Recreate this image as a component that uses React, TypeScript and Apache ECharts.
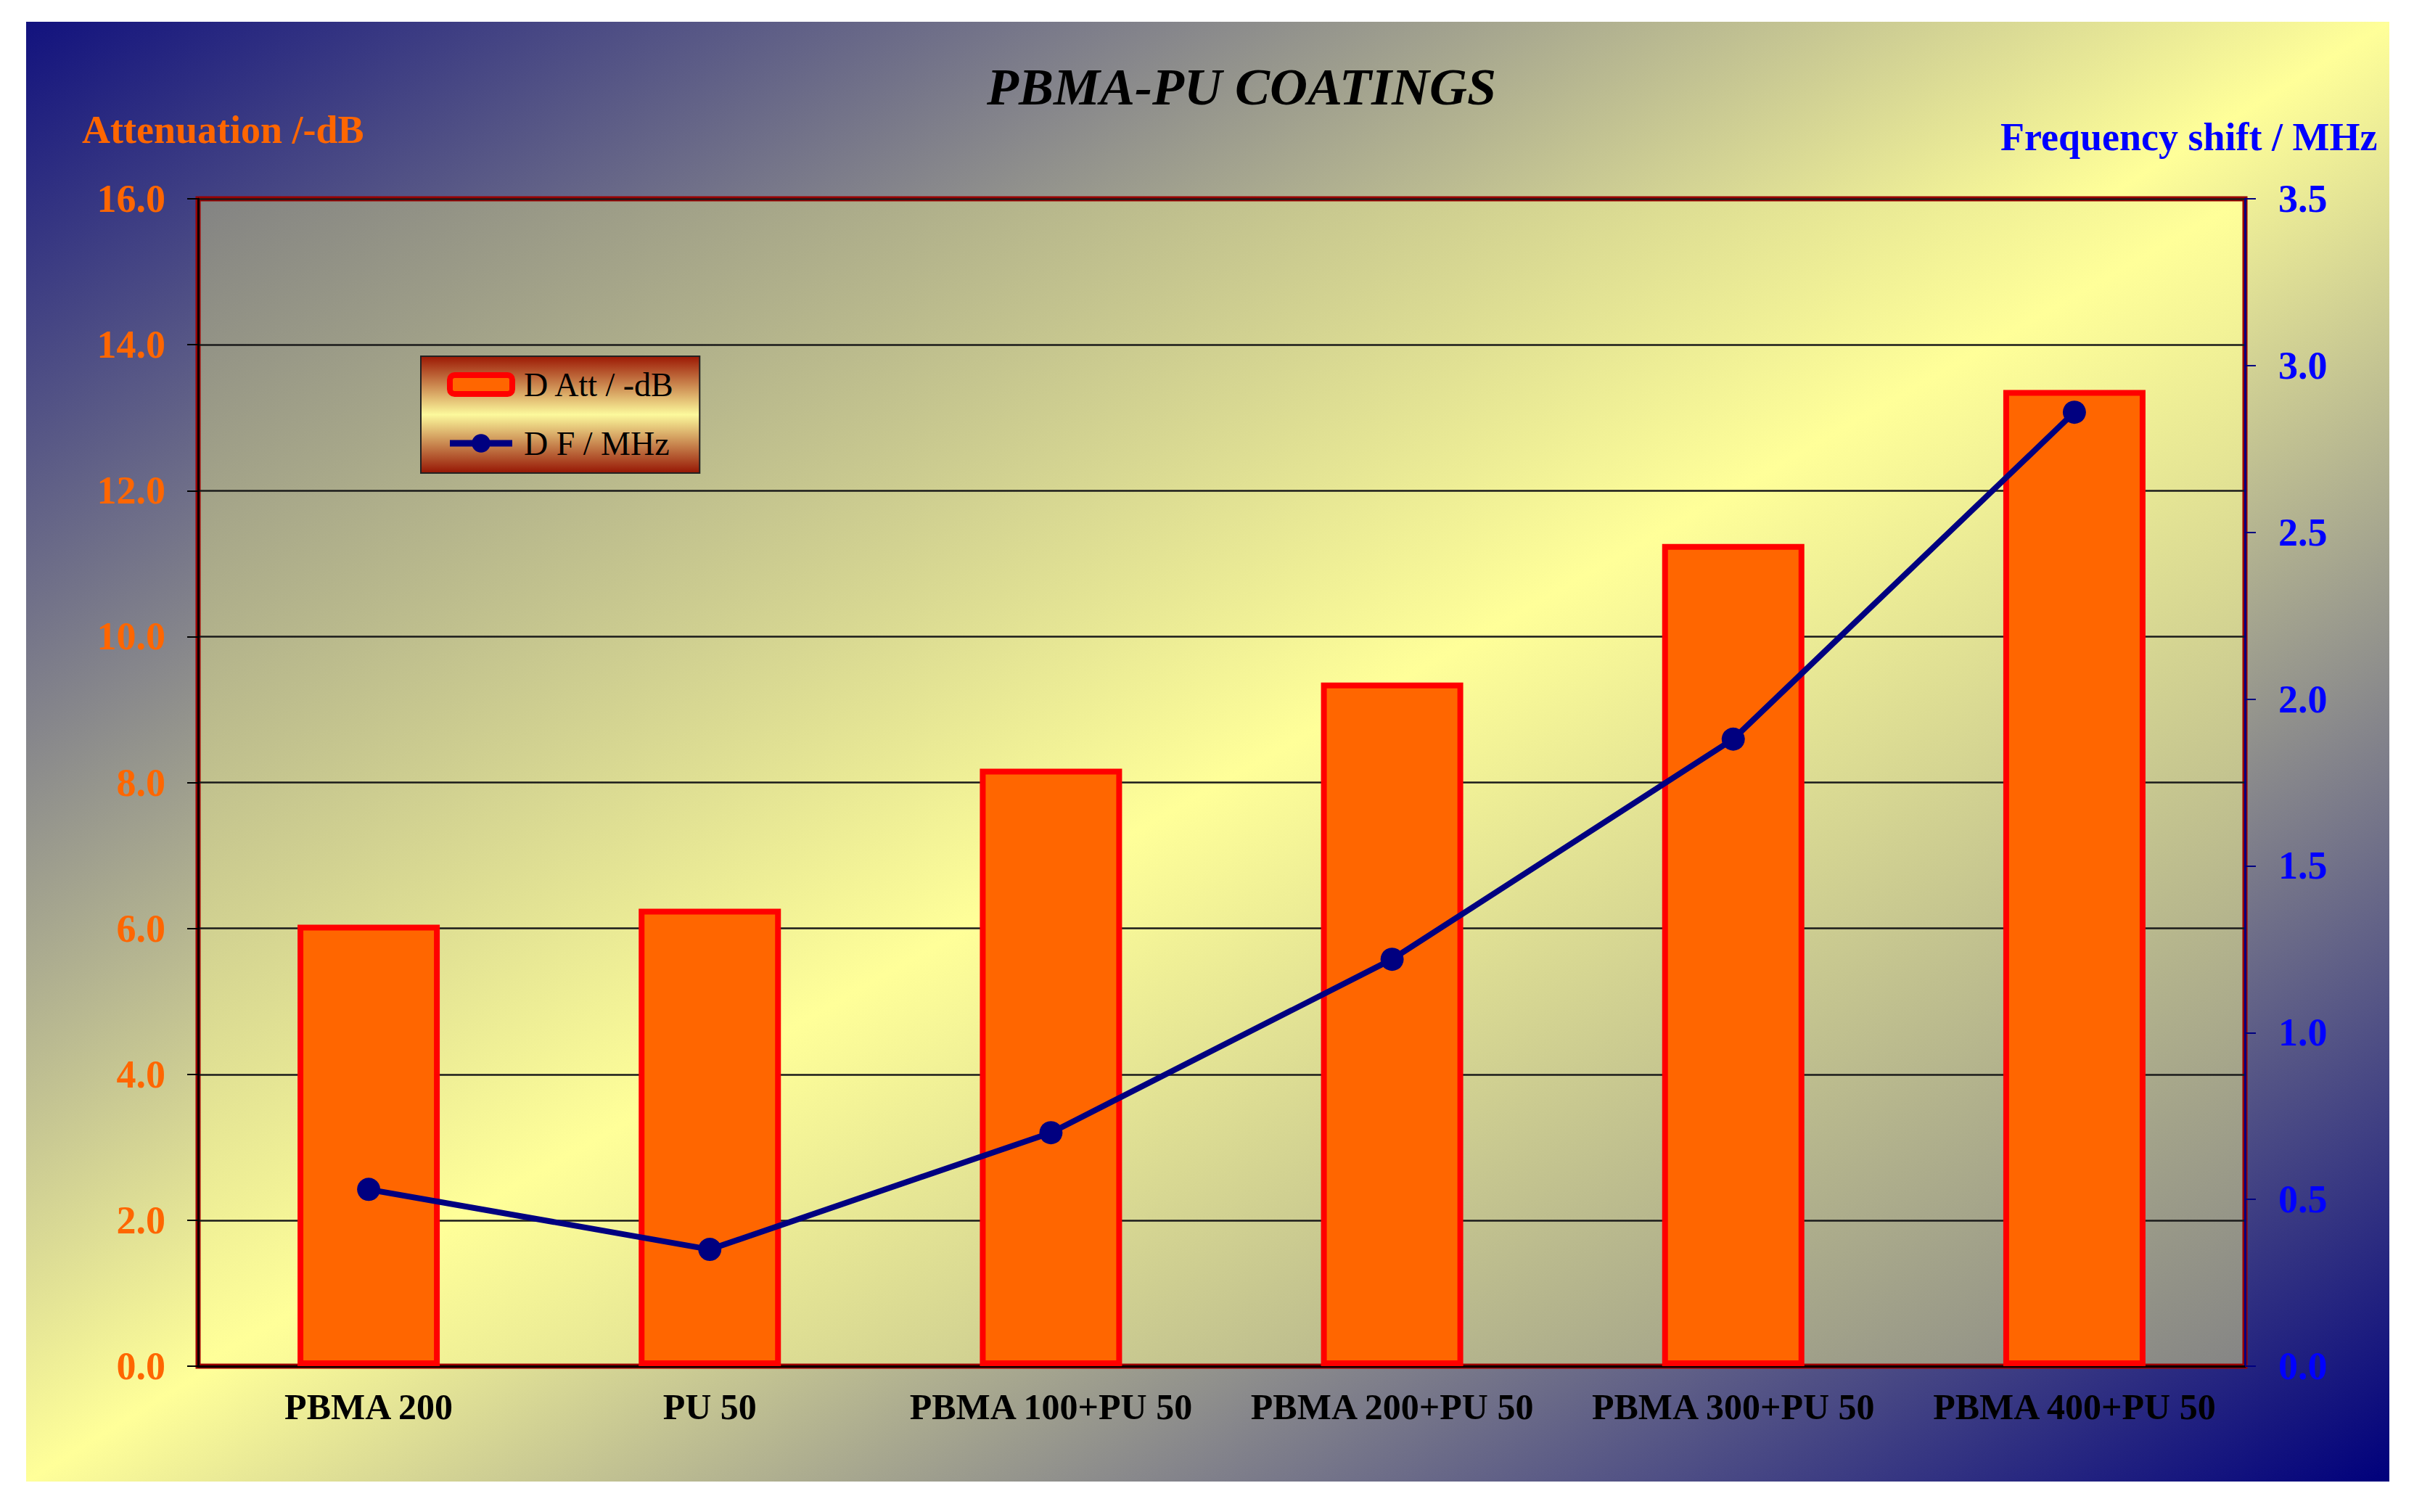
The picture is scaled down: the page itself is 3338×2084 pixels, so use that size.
import { useEffect, useRef } from 'react';
import * as echarts from 'echarts';

const categories = [
  'PBMA 200',
  'PU 50',
  'PBMA 100+PU 50',
  'PBMA 200+PU 50',
  'PBMA 300+PU 50',
  'PBMA 400+PU 50',
];
// D Att / -dB, left axis
const attenuation = [6.05, 6.27, 8.19, 9.37, 11.27, 13.38];
// D F / MHz, right axis
const freqShift = [0.53, 0.35, 0.7, 1.22, 1.88, 2.86];

const attMax = 16;
const attStep = 2;
const freqMax = 3.5;
const freqStep = 0.5;

const SERIF = "'Times New Roman', 'Liberation Serif', serif";
const ORANGE = '#ff6600';
const BLUE = '#0000ff';
const NAVY = '#000080';

// legend icon for the line series: thick line with a dot in the middle
const LINE_ICON = 'path://M0 9h94v10H0z M61 14a14 14 0 1 1-28 0a14 14 0 1 1 28 0z';

function App() {
  const chartRef = useRef<HTMLDivElement>(null);

  useEffect(() => {
    if (!chartRef.current) return;
    const chart = echarts.init(chartRef.current, null, { renderer: 'svg' });

    const outerBg = new echarts.graphic.LinearGradient(0, 0, 1, 1, [
      { offset: 0, color: '#12127e' },
      { offset: 0.5, color: '#ffff99' },
      { offset: 1, color: '#00007c' },
    ]);
    const plotBg = new echarts.graphic.LinearGradient(0, 0, 1, 1, [
      { offset: 0, color: '#838383' },
      { offset: 0.5, color: '#ffff99' },
      { offset: 1, color: '#858585' },
    ]);
    const legendBg = new echarts.graphic.LinearGradient(0, 0, 0, 1, [
      { offset: 0, color: '#9c1804' },
      { offset: 0.5, color: '#fcf99c' },
      { offset: 1, color: '#961604' },
    ]);

    const option: any = {
      animation: false,
      backgroundColor: '#ffffff',
      title: {
        text: 'PBMA-PU COATINGS',
        left: 1711,
        top: 84,
        textAlign: 'center',
        padding: 0,
        textStyle: {
          fontFamily: SERIF,
          fontSize: 72,
          fontWeight: 'bold',
          fontStyle: 'italic',
          color: '#000000',
        },
      },
      graphic: [
        {
          type: 'rect',
          z: -10,
          silent: true,
          shape: { x: 36, y: 30, width: 3257, height: 2012 },
          style: { fill: outerBg },
        },
        {
          type: 'text',
          x: 113,
          y: 152,
          z: 10,
          style: {
            text: 'Attenuation /-dB',
            font: `bold 54px ${SERIF}`,
            fill: ORANGE,
          },
        },
        {
          type: 'text',
          x: 2757,
          y: 162,
          z: 10,
          style: {
            text: 'Frequency shift / MHz',
            font: `bold 54px ${SERIF}`,
            fill: BLUE,
          },
        },
      ],
      legend: {
        orient: 'vertical',
        left: 580,
        top: 491,
        padding: [16, 34, 18, 36],
        itemWidth: 86,
        itemHeight: 26,
        itemGap: 35,
        backgroundColor: legendBg,
        borderColor: '#222222',
        borderWidth: 2,
        textStyle: {
          fontFamily: SERIF,
          fontSize: 46,
          lineHeight: 45,
          color: '#000000',
          padding: [0, 0, 0, 11],
        },
        data: [
          {
            name: 'D Att / -dB',
            itemStyle: { color: ORANGE, borderColor: '#ff0000', borderWidth: 8 },
          },
          {
            name: 'D F / MHz',
            icon: LINE_ICON,
            itemStyle: { color: NAVY, borderWidth: 0 },
          },
        ],
      },
      grid: {
        left: 273,
        right: 244,
        top: 274,
        bottom: 201,
        show: true,
        backgroundColor: plotBg,
        borderColor: '#990000',
        borderWidth: 7,
      },
      xAxis: {
        type: 'category',
        data: categories,
        axisLine: { lineStyle: { color: '#000000', width: 3 } },
        axisTick: { length: 15, lineStyle: { color: '#000000', width: 2 } },
        axisLabel: {
          margin: 31,
          fontFamily: SERIF,
          fontSize: 50,
          fontWeight: 'bold',
          color: '#000000',
          interval: 0,
        },
      },
      yAxis: [
        {
          type: 'value',
          min: 0,
          max: attMax,
          interval: attStep,
          axisLine: { show: true, lineStyle: { color: '#000000', width: 3 } },
          axisTick: { show: true, length: 15, lineStyle: { color: '#000000', width: 2 } },
          axisLabel: {
            margin: 45,
            fontFamily: SERIF,
            fontSize: 54,
            fontWeight: 'bold',
            color: ORANGE,
            formatter: (v: number) => v.toFixed(1),
          },
          splitLine: { lineStyle: { color: '#1a1a1a', width: 2.5 } },
        },
        {
          type: 'value',
          position: 'right',
          min: 0,
          max: freqMax,
          interval: freqStep,
          axisLine: { show: true, lineStyle: { color: NAVY, width: 3 } },
          axisTick: { show: true, length: 15, lineStyle: { color: NAVY, width: 2 } },
          axisLabel: {
            margin: 46,
            fontFamily: SERIF,
            fontSize: 54,
            fontWeight: 'bold',
            color: BLUE,
            formatter: (v: number) => v.toFixed(1),
          },
          splitLine: { show: false },
        },
      ],
      series: [
        {
          name: 'D Att / -dB',
          type: 'bar',
          data: attenuation,
          barWidth: 196,
          itemStyle: { color: ORANGE, borderColor: '#ff0000', borderWidth: 8 },
          z: 2,
        },
        {
          name: 'D F / MHz',
          type: 'line',
          yAxisIndex: 1,
          data: freqShift,
          symbol: 'circle',
          symbolSize: 32,
          itemStyle: { color: NAVY },
          lineStyle: { color: NAVY, width: 8 },
          z: 3,
        },
      ],
    };

    chart.setOption(option);

    return () => {
      chart.dispose();
    };
  }, []);

  return (
    <div
      ref={chartRef}
      style={{ position: 'absolute', left: 0, top: 0, width: 3338, height: 2084 }}
    />
  );
}

export default App;
